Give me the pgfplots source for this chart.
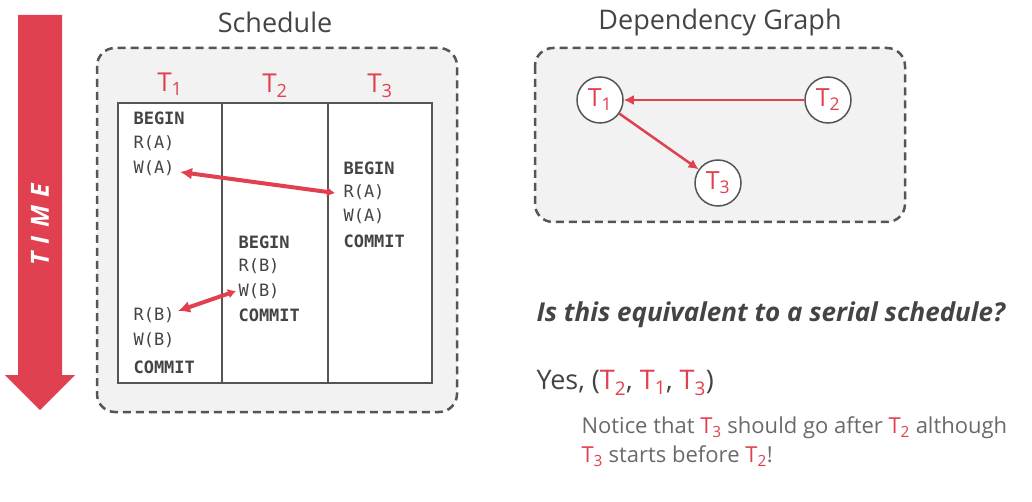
\documentclass[border=0pt]{standalone}
\usepackage{pgfplots}
\pgfplotsset{compat=1.18}
\usepackage{fontspec}
\setmainfont{Open Sans}
\newfontfamily\mono{DejaVu Sans Mono}
\usetikzlibrary{arrows.meta}
\definecolor{myred}{HTML}{E0404F}
\definecolor{dg}{HTML}{555555}
\definecolor{tg}{HTML}{444444}
\newcommand{\fs}[1]{\fontsize{#1}{#1}\selectfont}
\newcommand{\T}[1]{\textcolor{myred}{T\textsubscript{#1}}}
\begin{document}
\begin{tikzpicture}
\begin{axis}[width=1032pt,height=502pt,scale only axis,hide axis,
 xmin=0,xmax=1032,ymin=0,ymax=502,y dir=reverse,clip=false]
\path (0,0) rectangle (1032,502);
% time arrow
\fill[myred] (18,15)--(62,15)--(62,375)--(75,375)--(40,410)--(5,375)--(18,375)--cycle;
\node[rotate=90,text=white,font=\fs{25}\bfseries\itshape] at (40,225) {T\,\,I\,\,M\,\,E};
% titles
\node[text=tg,font=\fs{27}] at (275,22) {Schedule};
\node[text=tg,font=\fs{27}] at (720,22) {Dependency Graph};
% schedule box
\draw[dg,line width=2.5pt,dash pattern=on 8pt off 5pt,fill=gray!10,rounded corners=18pt] (97,48) rectangle (457,412);
\draw[dg,line width=1.2pt,fill=white] (118,103) rectangle (432,383);
\draw[dg,line width=1.2pt] (222,103)--(222,383) (328,103)--(328,383);
\node[font=\fs{26}] at (170,84) {\T1};
\node[font=\fs{26}] at (275,86) {\T2};
\node[font=\fs{26}] at (380,86) {\T3};
\begin{scope}[every node/.style={anchor=west,text=tg,font=\mono\fs{17}}]
\node at (130,118) {\textbf{BEGIN}};
\node at (130,143) {R(A)};
\node at (130,168) {W(A)};
\node at (130,315) {R(B)};
\node at (130,340) {W(B)};
\node at (130,367) {\textbf{COMMIT}};
\node at (235,242) {\textbf{BEGIN}};
\node at (235,266) {R(B)};
\node at (235,291) {W(B)};
\node at (235,315) {\textbf{COMMIT}};
\node at (340,168) {\textbf{BEGIN}};
\node at (340,192) {R(A)};
\node at (340,216) {W(A)};
\node at (340,241) {\textbf{COMMIT}};
\end{scope}
\draw[myred,line width=4pt,{Latex[length=12pt,width=12pt]}-{Latex[length=8pt,width=10pt]}] (180,172)--(335,193);
\draw[myred,line width=4pt,{Latex[length=12pt,width=12pt]}-{Latex[length=8pt,width=10pt]}] (178,311)--(236,291);
% graph box
\draw[dg,line width=2.5pt,dash pattern=on 8pt off 5pt,fill=gray!10,rounded corners=18pt] (535,48) rectangle (905,222);
\begin{scope}[every node/.style={circle,draw=dg,line width=1.5pt,fill=white,minimum size=46pt,inner sep=0pt,font=\fs{25}}]
\node (a) at (600,100) {\T1};
\node (b) at (828,100) {\T2};
\node (c) at (718,183) {\T3};
\end{scope}
\draw[myred,line width=2.5pt,-{Latex[length=10pt,width=10pt]}] (b)--(a);
\draw[myred,line width=2.5pt,-{Latex[length=10pt,width=10pt]}] (a)--(c);
% text
\node[anchor=west,text=tg,font=\fs{26}\bfseries\itshape] at (533,315) {Is this equivalent to a serial schedule?};
\node[anchor=west,text=tg,font=\fs{27}] at (533,383) {Yes, (\T2, \T1, \T3)};
\node[anchor=west,text=tg!80,font=\fs{22}] at (578,428) {Notice that \T3 should go after \T2 although};
\node[anchor=west,text=tg!80,font=\fs{22}] at (578,456) {\T3 starts before \T2!};
\end{axis}
\end{tikzpicture}
\end{document}
